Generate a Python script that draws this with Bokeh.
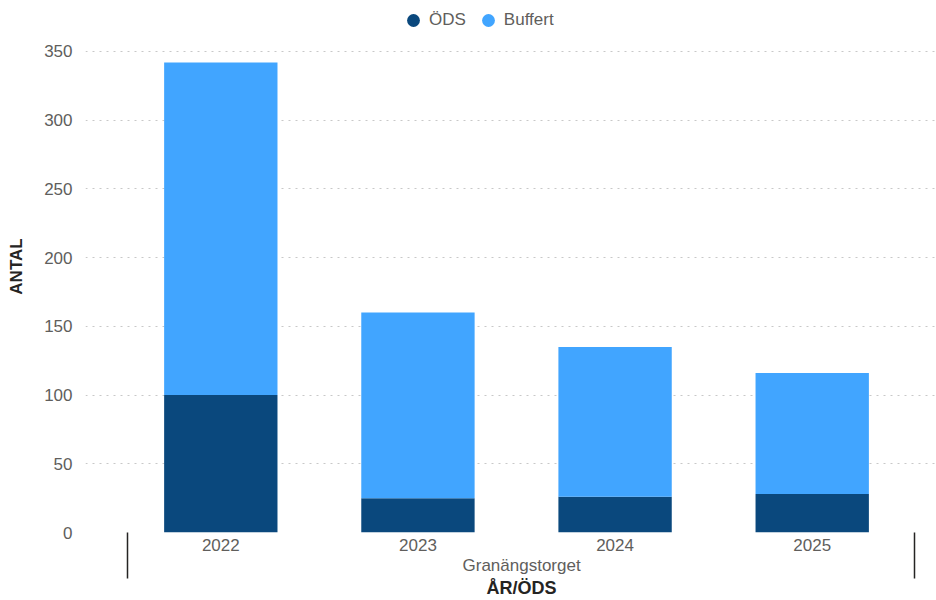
from bokeh.plotting import figure
from bokeh.models import (ColumnDataSource, Range1d, FixedTicker, Legend, LegendItem,
                          Title)
from bokeh.embed import file_html
from bokeh.resources import INLINE

# ---- data ----
years = ["2022", "2023", "2024", "2025"]
ods = [100, 25, 26, 28]
buffert = [242, 135, 109, 88]
y_ticks = [0, 50, 100, 150, 200, 250, 300, 350]
series = ["ÖDS", "Buffert"]
colors = ["#0A487D", "#41A5FF"]
group_label = "Granängstorget"
x_title = "ÅR/ÖDS"
y_title = "ANTAL"

FONT = "Liberation Sans"
TICK_COLOR = "#605E5C"
TITLE_COLOR = "#252423"

xs = list(range(len(years)))
# group separators sit just outside the first and last category
separators = [xs[0] - 0.473, xs[-1] + 0.519]
src = ColumnDataSource(dict(x=xs, ÖDS=ods, Buffert=buffert))

p = figure(width=936, height=600, output_backend="svg", toolbar_location=None,
           x_range=Range1d(-0.6864, 3.6254), y_range=Range1d(0, 387.1),
           min_border_left=85, min_border_right=1, min_border_top=0,
           min_border_bottom=68)
p.outline_line_color = None
p.background_fill_color = "white"
p.border_fill_color = "white"

renderers = p.vbar_stack(series, x="x", width=0.575, source=src,
                         color=colors, line_color=None)

# grid
p.xgrid.visible = False
p.ygrid.ticker = FixedTicker(ticks=y_ticks)
p.ygrid.grid_line_color = "#C8C8C8"
p.ygrid.grid_line_dash = "2 5"
p.ygrid.grid_line_width = 1

# y axis
p.yaxis.ticker = FixedTicker(ticks=y_ticks)
p.yaxis.axis_line_color = None
p.yaxis.major_tick_line_color = None
p.yaxis.minor_tick_line_color = None
p.yaxis.major_tick_out = 0
p.yaxis.major_label_standoff = 13
p.yaxis.major_label_text_font = FONT
p.yaxis.major_label_text_font_size = "17px"
p.yaxis.major_label_text_color = TICK_COLOR
p.yaxis.axis_label = y_title
p.yaxis.axis_label_text_font = FONT
p.yaxis.axis_label_text_font_size = "17px"
p.yaxis.axis_label_text_font_style = "bold"
p.yaxis.axis_label_text_color = TITLE_COLOR
p.yaxis.axis_label_standoff = 15

# x axis (minor ticks draw the group separator lines)
p.xaxis.ticker = FixedTicker(ticks=xs, minor_ticks=separators)
p.xaxis.major_label_overrides = {i: y for i, y in zip(xs, years)}
p.xaxis.axis_line_color = None
p.xaxis.major_tick_line_color = None
p.xaxis.major_tick_out = 0
p.xaxis.major_tick_in = 0
p.xaxis.minor_tick_line_color = "#252423"
p.xaxis.minor_tick_line_width = 1.5
p.xaxis.minor_tick_in = 0
p.xaxis.minor_tick_out = 46
p.xaxis.major_label_standoff = -40
p.xaxis.major_label_text_font = FONT
p.xaxis.major_label_text_font_size = "17px"
p.xaxis.major_label_text_color = TICK_COLOR

# group label and bottom title
p.add_layout(Title(text=group_label, align="left", offset=377, standoff=0,
                   text_font=FONT, text_font_size="17px", text_font_style="normal",
                   text_color=TICK_COLOR), "below")
p.add_layout(Title(text=x_title, align="left", offset=401, standoff=2,
                   text_font=FONT, text_font_size="18px", text_font_style="bold",
                   text_color=TITLE_COLOR), "below")

# legend with circle markers
nan = float("nan")
dummies = [p.scatter(x=[nan], y=[nan], marker="circle", size=13, color=c,
                     line_color=None) for c in colors]
legend = Legend(items=[LegendItem(label=s, renderers=[d]) for s, d in zip(series, dummies)],
                orientation="horizontal", location=(312, 496),
                padding=0, margin=0, spacing=6, label_standoff=0,
                glyph_width=32, glyph_height=32,
                label_text_font=FONT, label_text_font_size="17px",
                label_text_color=TICK_COLOR,
                background_fill_alpha=0, border_line_color=None)
p.add_layout(legend)

open("out.html", "w").write(file_html(p, INLINE))
